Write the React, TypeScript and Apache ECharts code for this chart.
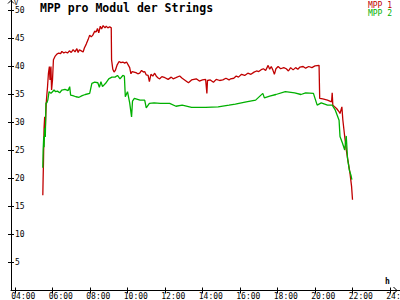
import React, { useEffect, useRef } from "react";
import * as echarts from "echarts";

const FONT = "DejaVu Sans Mono";
const RED = "#c00000";
const GREEN = "#00b000";

const seriesNames = ["MPP 1", "MPP 2"];

const redTimes = [
  "05:29","05:30","05:31","05:33","05:35","05:37","05:40","05:42","05:44","05:47","05:50","05:52","05:55","05:57",
  "06:00","06:03","06:08","06:14","06:20","06:26","06:30","06:36","06:42","06:48","06:54","07:00","07:06","07:12",
  "07:18","07:22","07:26","07:32","07:38","07:42","07:48","07:54","07:59","08:04","08:09","08:15","08:20","08:24",
  "08:28","08:33","08:37","08:42","08:48","08:52","08:57","09:03","09:08","09:09","09:13","09:17","09:21","09:27",
  "09:33","09:39","09:45","09:51","09:57","10:03","10:07","10:11","10:15","10:21","10:27","10:33","10:39","10:45",
  "10:51","10:55","11:00","11:06","11:10","11:15","11:21","11:27","11:33","11:39","11:43","11:50","12:00","12:10",
  "12:20","12:26","12:35","12:47","12:55","13:05","13:15","13:25","13:40","13:50","14:00","14:10","14:14","14:16",
  "14:25","14:35","14:44","14:55","15:05","15:15","15:25","15:30","15:40","15:48","15:55","16:05","16:15","16:25",
  "16:35","16:45","16:53","17:00","17:10","17:15","17:22","17:30","17:35","17:40","17:45","17:50","17:55","18:02",
  "18:10","18:20","18:28","18:35","18:42","18:50","18:58","19:05","19:12","19:22","19:30","19:40","19:50","20:00",
  "20:13","20:15","20:25","20:40","20:53","20:55","20:57","21:09","21:16","21:20","21:26","21:29","21:35","21:40",
  "21:46","21:52","21:57","22:00"
];
const redValues = [
  17.0,20.0,22.5,29.0,31.0,29.0,33.5,35.0,36.3,38.8,40.0,37.6,40.0,35.8,
  37.6,41.2,41.8,42.2,42.4,42.3,42.7,42.4,42.6,42.4,42.8,42.5,43.0,42.6,
  43.2,42.5,43.0,42.8,42.6,43.3,44.0,44.8,45.6,45.3,45.6,46.3,46.2,46.8,
  46.0,47.2,46.7,47.3,46.9,47.2,46.9,47.1,46.9,41.2,39.5,39.0,39.3,40.3,
  40.9,40.7,40.8,40.6,40.8,40.2,39.8,38.7,39.1,39.0,38.9,38.7,38.8,39.3,
  39.0,39.1,38.5,38.4,37.3,38.6,38.3,38.8,38.2,37.9,37.8,38.2,38.0,37.7,
  38.1,37.8,38.0,38.3,37.9,37.5,37.1,37.6,37.8,37.4,37.6,37.7,35.2,37.5,
  37.6,37.2,37.7,37.5,37.6,37.9,37.6,37.8,37.9,38.3,38.1,38.6,38.4,38.8,
  38.6,39.0,39.2,39.1,39.5,39.6,39.3,40.2,39.5,40.0,39.4,38.6,39.6,40.0,
  39.6,39.8,39.6,39.2,39.8,39.4,39.8,39.5,39.9,40.0,39.7,40.0,39.8,40.1,
  40.2,34.3,34.2,34.0,33.7,35.3,33.1,32.5,32.0,31.6,32.8,30.5,27.5,25.1,
  23.0,20.9,18.6,16.2
];

const greenTimes = [
  "05:29","05:30","05:32","05:33","05:35","05:37","05:39","05:42","05:45","05:49","05:55","06:00","06:05","06:10",
  "06:16","06:23","06:30","06:40","06:50","06:55","06:58","07:05","07:15","07:25","07:35","07:45","07:59","08:06",
  "08:15","08:25","08:30","08:35","08:40","08:50","09:00","09:10","09:20","09:28","09:36","09:45","09:50","09:53",
  "10:00","10:07","10:13","10:16","10:22","10:40","10:55","11:00","11:10","11:25","11:45","12:15","12:35","12:55",
  "13:25","14:10","14:50","15:25","15:45","16:20","16:50","17:13","17:18","17:35","17:55","18:25","18:55","19:15",
  "19:30","19:55","20:00","20:07","20:20","20:40","20:55","21:05","21:17","21:20","21:28","21:35","21:40","21:44",
  "21:50","21:55","21:58"
];
const greenValues = [
  21.9,25.0,27.5,25.6,29.0,27.4,33.5,33.5,34.0,35.5,35.2,35.5,35.8,35.5,
  35.6,35.3,35.8,35.9,35.7,36.4,34.9,34.8,34.6,34.5,34.8,35.0,35.2,37.0,
  37.2,37.1,36.3,37.3,36.4,37.0,37.8,38.1,38.1,38.4,37.8,38.4,38.3,34.6,
  35.5,33.5,31.0,33.8,34.3,34.0,34.0,32.6,33.4,33.5,33.4,33.4,32.9,33.1,
  32.7,32.7,32.8,33.1,33.3,33.7,34.0,35.2,34.4,34.7,35.0,35.5,35.3,35.0,
  35.3,35.2,34.3,33.1,33.5,33.1,33.1,32.2,30.4,27.5,26.3,25.1,27.6,23.6,
  21.5,20.6,19.8
];

const xTickHours = [4, 6, 8, 10, 12, 14, 16, 18, 20, 22, 24];
const yTickValues = [5, 10, 15, 20, 25, 30, 35, 40, 45, 50];

const toHours = (t: string) => {
  const [h, m] = t.split(":").map(Number);
  return h + m / 60;
};
const pair = (times: string[], vals: number[]) => times.map((t, i) => [toHours(t), vals[i]]);

const X_MIN = 3.787;
const X_MAX = 24.533;
const LABEL_SHIFT = 0.2;
const Y_MAX = 51.875;

export default function App() {
  const ref = useRef<HTMLDivElement>(null);
  useEffect(() => {
    if (!ref.current) return;
    const chart = echarts.init(ref.current, null, { renderer: "svg" });
    const black = "#000";
    chart.setOption({
      animation: false,
      backgroundColor: "#fff",
      textStyle: { fontFamily: FONT },
      title: {
        text: "MPP pro Modul der Strings",
        left: 38,
        top: 0,
        padding: [2, 2],
        textStyle: { fontSize: 11.5, fontWeight: "bold", color: black, fontFamily: FONT },
      },
      legend: {
        orient: "vertical",
        right: 7,
        top: 0,
        padding: 1,
        itemWidth: 0,
        itemHeight: 0,
        itemGap: 0,
        icon: "rect",
        textStyle: { fontSize: 8, fontFamily: FONT, lineHeight: 8, padding: [0, 0, 0, -5] },
        data: [
          { name: seriesNames[0], textStyle: { color: RED } },
          { name: seriesNames[1], textStyle: { color: GREEN } },
        ],
      },
      grid: { left: 11, right: 0, top: 0, bottom: 9.5, containLabel: false, outerBoundsMode: "none" },
      xAxis: [
        {
          type: "value", min: X_MIN, max: X_MAX, position: "bottom",
          axisLine: { show: true, onZero: false, lineStyle: { color: black, width: 1 } },
          axisTick: { show: true, customValues: xTickHours, length: 3, lineStyle: { color: black } },
          axisLabel: { show: false },
          splitLine: { show: false },
        },
        {
          type: "value", min: X_MIN, max: X_MAX, position: "bottom",
          axisLine: { show: false, onZero: false },
          axisTick: { show: true, inside: true, customValues: xTickHours, length: 3, lineStyle: { color: black } },
          axisLabel: { show: false },
          splitLine: { show: false },
        },
        {
          type: "value", min: X_MIN + LABEL_SHIFT, max: X_MAX + LABEL_SHIFT, position: "bottom",
          axisLine: { show: false, onZero: false },
          axisTick: { show: false },
          axisLabel: {
            show: true,
            customValues: xTickHours,
            showMinLabel: true,
            showMaxLabel: true,
            align: "left",
            margin: 2,
            fontSize: 8,
            fontFamily: FONT,
            color: black,
            formatter: (v: number) => (v < 10 ? "0" : "") + Math.round(v) + ":00",
          },
          splitLine: { show: false },
        },
      ],
      yAxis: [
        {
          type: "value", min: 0, max: Y_MAX, position: "left",
          axisLine: { show: true, onZero: false, lineStyle: { color: black, width: 1 } },
          axisTick: { show: true, customValues: yTickValues, length: 3, lineStyle: { color: black } },
          axisLabel: {
            show: true, inside: true, customValues: yTickValues, margin: 4,
            fontSize: 8, fontFamily: FONT, color: black,
          },
          splitLine: { show: false },
        },
        {
          type: "value", min: 0, max: Y_MAX, position: "left",
          axisLine: { show: false, onZero: false },
          axisTick: { show: true, inside: true, customValues: yTickValues, length: 3, lineStyle: { color: black } },
          axisLabel: { show: false },
          splitLine: { show: false },
        },
      ],
      graphic: [
        { type: "polyline", shape: { points: [[8, 3.5], [11, 0.5], [14, 3.5]] }, style: { stroke: black, fill: "none", lineWidth: 1 } },
        { type: "polyline", shape: { points: [[393.5, 287], [397, 290.5], [393.5, 294]] }, style: { stroke: black, fill: "none", lineWidth: 1 } },
        { type: "text", x: 14, y: -1, style: { text: "V", fontSize: 7, fontFamily: FONT, fill: black } },
        { type: "text", x: 385, y: 277, style: { text: "h", fontSize: 8, fontFamily: FONT, fill: black, fontWeight: "bold" } },
      ],
      series: [
        {
          name: seriesNames[0], type: "line", xAxisIndex: 0, yAxisIndex: 0,
          data: pair(redTimes, redValues), showSymbol: false, symbol: "none",
          lineStyle: { color: RED, width: 1.3 }, itemStyle: { color: RED },
        },
        {
          name: seriesNames[1], type: "line", xAxisIndex: 0, yAxisIndex: 0,
          data: pair(greenTimes, greenValues), showSymbol: false, symbol: "none",
          lineStyle: { color: GREEN, width: 1.3 }, itemStyle: { color: GREEN },
        },
      ],
    });
    return () => chart.dispose();
  }, []);
  return <div ref={ref} style={{ position: "absolute", left: 0, top: 0, width: 400, height: 300 }} />;
}
